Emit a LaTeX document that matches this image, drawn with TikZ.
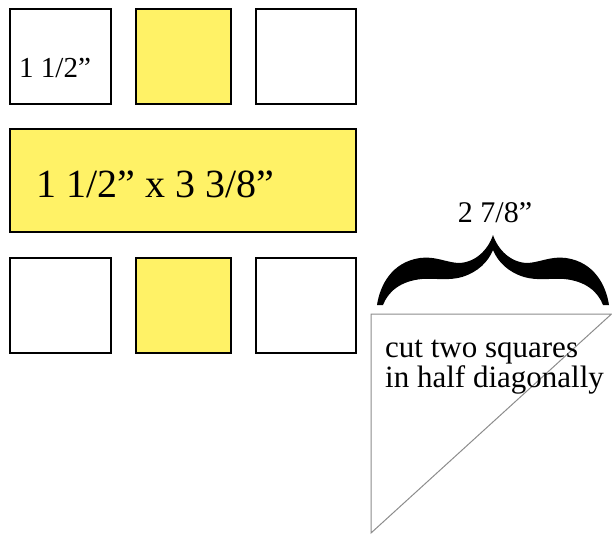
\documentclass[tikz,border=0pt]{standalone}
\usepackage{fontspec}
\setmainfont{Liberation Serif}
\usepackage{xcolor}
\usetikzlibrary{positioning}
\definecolor{patch}{HTML}{FFF266}
\definecolor{cutline}{HTML}{8C8C8C}

\begin{document}
\begin{tikzpicture}[x=1pt,y=-1pt,
  sq/.style={draw=black,line width=1.6pt,minimum width=#1,minimum height=95.5pt,inner sep=0pt},
  lbl/.style={anchor=base west,inner sep=0pt,font=\fontsize{29}{29}\selectfont}
]
  \useasboundingbox (0,0) rectangle (612,535);
  % top row
  \node[sq=101.5pt,fill=white]   (tl) at (60.5,56.5)  {};
  \node[sq=95.5pt,fill=patch]    (tm) at (183.5,56.5) {};
  \node[sq=100.5pt,fill=white]   (tr) at (306,56.5)   {};
  % strip
  \node[sq=346.5pt,minimum height=103.5pt,fill=patch] (strip) at (183,180.5) {};
  % bottom row
  \node[sq=101.5pt,fill=white]   (bl) at (60.5,305.5)  {};
  \node[sq=95.5pt,fill=patch]    (bm) at (183.5,305.5) {};
  \node[sq=100.5pt,fill=white]   (br) at (306,305.5)   {};
  % labels
  \node[lbl] (side) at (19,77) {1 1/2”};
  \node[lbl,font=\fontsize{40}{40}\selectfont] (size) at (36,197) {1 1/2” x 3 3/8”};
  % triangle
  \coordinate (ta) at (371,314);
  \coordinate (tb) at (611.5,314);
  \coordinate (tc) at (371,533);
  \draw[cutline,line width=1pt] (tc) -- (ta) -- (tb) -- cycle;
  \node[anchor=base west,inner sep=0pt,align=left,font=\fontsize{31}{27}\selectfont] (cut) at (385,387)
    {cut two squares\\in half diagonally};
  % brace
  \fill[black] (377,305) .. controls (380,285) and (392,262) .. (420,258)
    .. controls (435,256) and (445,262) .. (458,263)
    .. controls (475,263) and (488,250) .. (493,235)
    .. controls (498,250) and (511,263) .. (528,263)
    .. controls (541,262) and (551,256) .. (566,258)
    .. controls (594,262) and (606,285) .. (609,305)
    -- (603,305) .. controls (598,292) and (586,281) .. (564,279)
    .. controls (551,278) and (538,281) .. (524,277)
    .. controls (508,272) and (498,262) .. (493,250)
    .. controls (488,262) and (478,272) .. (462,277)
    .. controls (448,281) and (435,278) .. (422,279)
    .. controls (400,281) and (388,292) .. (383,305) -- cycle;
  \node[anchor=base,inner sep=0pt,font=\fontsize{30}{30}\selectfont] (width) at (495,222) {2 7/8”};
\end{tikzpicture}
\end{document}
